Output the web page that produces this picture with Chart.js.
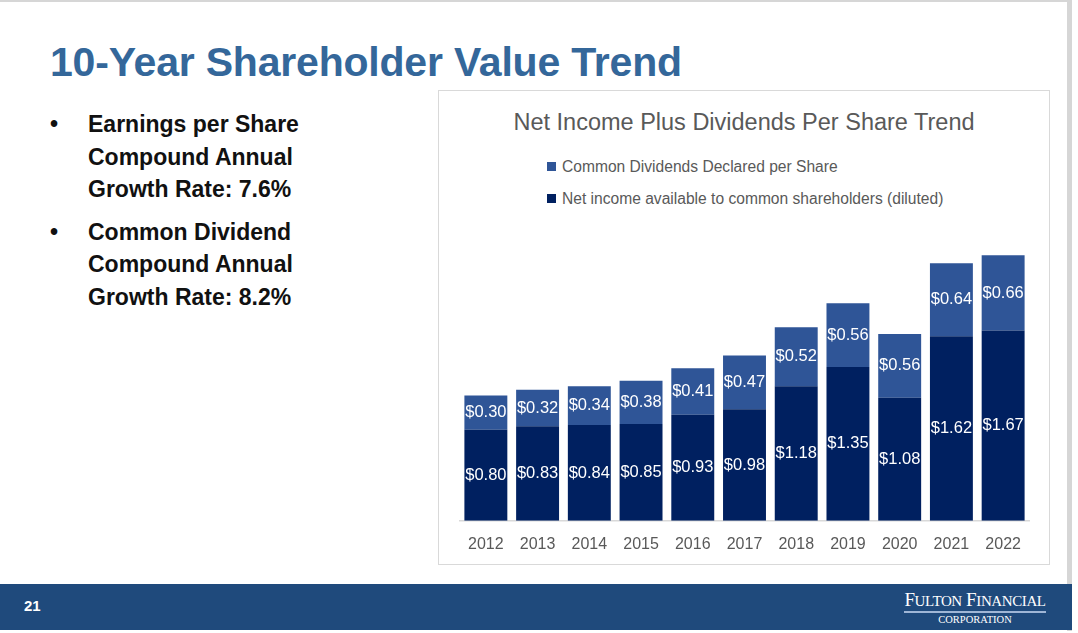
<!DOCTYPE html>
<html>
<head>
<meta charset="utf-8">
<script src="https://cdn.jsdelivr.net/npm/chart.js@4"></script>
<style>
  body { margin: 0; width: 1078px; height: 633px; position: relative; background: #fff; overflow: hidden; font-family: "Liberation Sans", Arial, sans-serif; }
  .frame { position: absolute; left: 0; top: 0; width: 1072px; height: 631px; border-top: 2px solid #d6d6d6; border-right: 5px solid #d6d6d6; box-sizing: border-box; }
  .title { position: absolute; left: 50px; top: 39px; font-size: 41px; font-weight: bold; color: #34679a; white-space: nowrap; letter-spacing: -0.2px; }
  .bullets { position: absolute; left: 44px; top: 108px; font-size: 23px; font-weight: bold; color: #111; line-height: 32.5px; }
  .bullet { position: relative; padding-left: 44px; margin-bottom: 10px; }
  .bullet::before { content: "\2022"; position: absolute; left: 6px; top: 0; }
  .box { position: absolute; left: 438px; top: 90px; width: 612px; height: 475px; border: 1px solid #d9d9d9; box-sizing: border-box; }
  .ctitle { position: absolute; left: 0; width: 100%; top: 18px; text-align: center; font-size: 23.5px; color: #595959; }
  .legend { position: absolute; left: 108px; top: 66px; font-size: 15.6px; color: #595959; }
  .legend div { height: 32px; line-height: 20px; white-space: nowrap; }
  .legend span { display: inline-block; width: 9px; height: 9px; margin-right: 6px; vertical-align: 1px; }
  .wrap { position: absolute; left: 1px; top: 145px; width: 610px; height: 332px; }
  .footer { position: absolute; left: 0; top: 584px; width: 1072px; height: 46px; background: #1f4a7c; color: #fff; }
  .pg { position: absolute; left: 24px; top: 13px; font-size: 15px; font-weight: bold; }
  .logo { position: absolute; left: 904px; top: 6px; width: 142px; text-align: center; font-family: "Liberation Serif", serif; color: #fff; }
  .logo .big { font-size: 19px; letter-spacing: -0.4px; border-bottom: 2px solid #9fb6d6; padding-bottom: 0px; line-height: 20px; }
  .logo .small { font-size: 10.5px; margin-top: 1px; }
</style>
</head>
<body>
<div class="frame"></div>
<div class="title">10-Year Shareholder Value Trend</div>
<div class="bullets">
  <div class="bullet">Earnings per Share<br>Compound Annual<br>Growth Rate: 7.6%</div>
  <div class="bullet">Common Dividend<br>Compound Annual<br>Growth Rate: 8.2%</div>
</div>
<div class="box">
  <div class="ctitle">Net Income Plus Dividends Per Share Trend</div>
  <div class="legend" id="legend"></div>
  <div class="wrap"><canvas id="chart"></canvas></div>
</div>
<div class="footer">
  <div class="pg">21</div>
  <div class="logo"><div class="big">F<span style="font-size:15px">ULTON</span> F<span style="font-size:15px">INANCIAL</span></div><div class="small">CORPORATION</div></div>
</div>
<script>
const years = ["2012", "2013", "2014", "2015", "2016", "2017", "2018", "2019", "2020", "2021", "2022"];
const netIncome = [0.80, 0.83, 0.84, 0.85, 0.93, 0.98, 1.18, 1.35, 1.08, 1.62, 1.67];
const dividends = [0.30, 0.32, 0.34, 0.38, 0.41, 0.47, 0.52, 0.56, 0.56, 0.64, 0.66];
const seriesNames = ["Net income available to common shareholders (diluted)", "Common Dividends Declared per Share"];
const colors = ["#002060", "#2f5597"];

// legend, top series first
const legend = document.getElementById("legend");
[1, 0].forEach((i) => {
  const row = document.createElement("div");
  row.innerHTML = '<span style="background:' + colors[i] + '"></span>' + seriesNames[i];
  legend.appendChild(row);
});

// white value labels in the middle of each segment
const barLabels = {
  id: "barLabels",
  afterDatasetsDraw(chart) {
    const ctx = chart.ctx;
    ctx.save();
    ctx.fillStyle = "#fff";
    ctx.font = "16.5px 'Liberation Sans', Arial, sans-serif";
    ctx.textAlign = "center";
    ctx.textBaseline = "middle";
    chart.data.datasets.forEach((ds, di) => {
      chart.getDatasetMeta(di).data.forEach((bar, i) => {
        const mid = (bar.y + bar.base) / 2;
        ctx.fillText("$" + ds.data[i].toFixed(2), bar.x, mid);
      });
    });
    ctx.restore();
  },
};

new Chart(document.getElementById("chart"), {
  type: "bar",
  data: {
    labels: years,
    datasets: [
      { label: seriesNames[0], data: netIncome, backgroundColor: colors[0] },
      { label: seriesNames[1], data: dividends, backgroundColor: colors[1] },
    ],
  },
  options: {
    responsive: true,
    maintainAspectRatio: false,
    animation: false,
    layout: { padding: { left: 20, right: 21, top: 0, bottom: 0 } },
    datasets: { bar: { categoryPercentage: 0.83, barPercentage: 1.0 } },
    plugins: { legend: { display: false }, tooltip: { enabled: false } },
    scales: {
      x: {
        stacked: true,
        grid: { display: false, drawTicks: false },
        border: { display: true, color: "#d9d9d9", width: 1.5 },
        ticks: { color: "#595959", font: { size: 16, family: "'Liberation Sans', Arial, sans-serif" }, padding: 14 },
      },
      y: { stacked: true, display: false, min: 0, max: 2.5 },
    },
  },
  plugins: [barLabels],
});
</script>
</body>
</html>
